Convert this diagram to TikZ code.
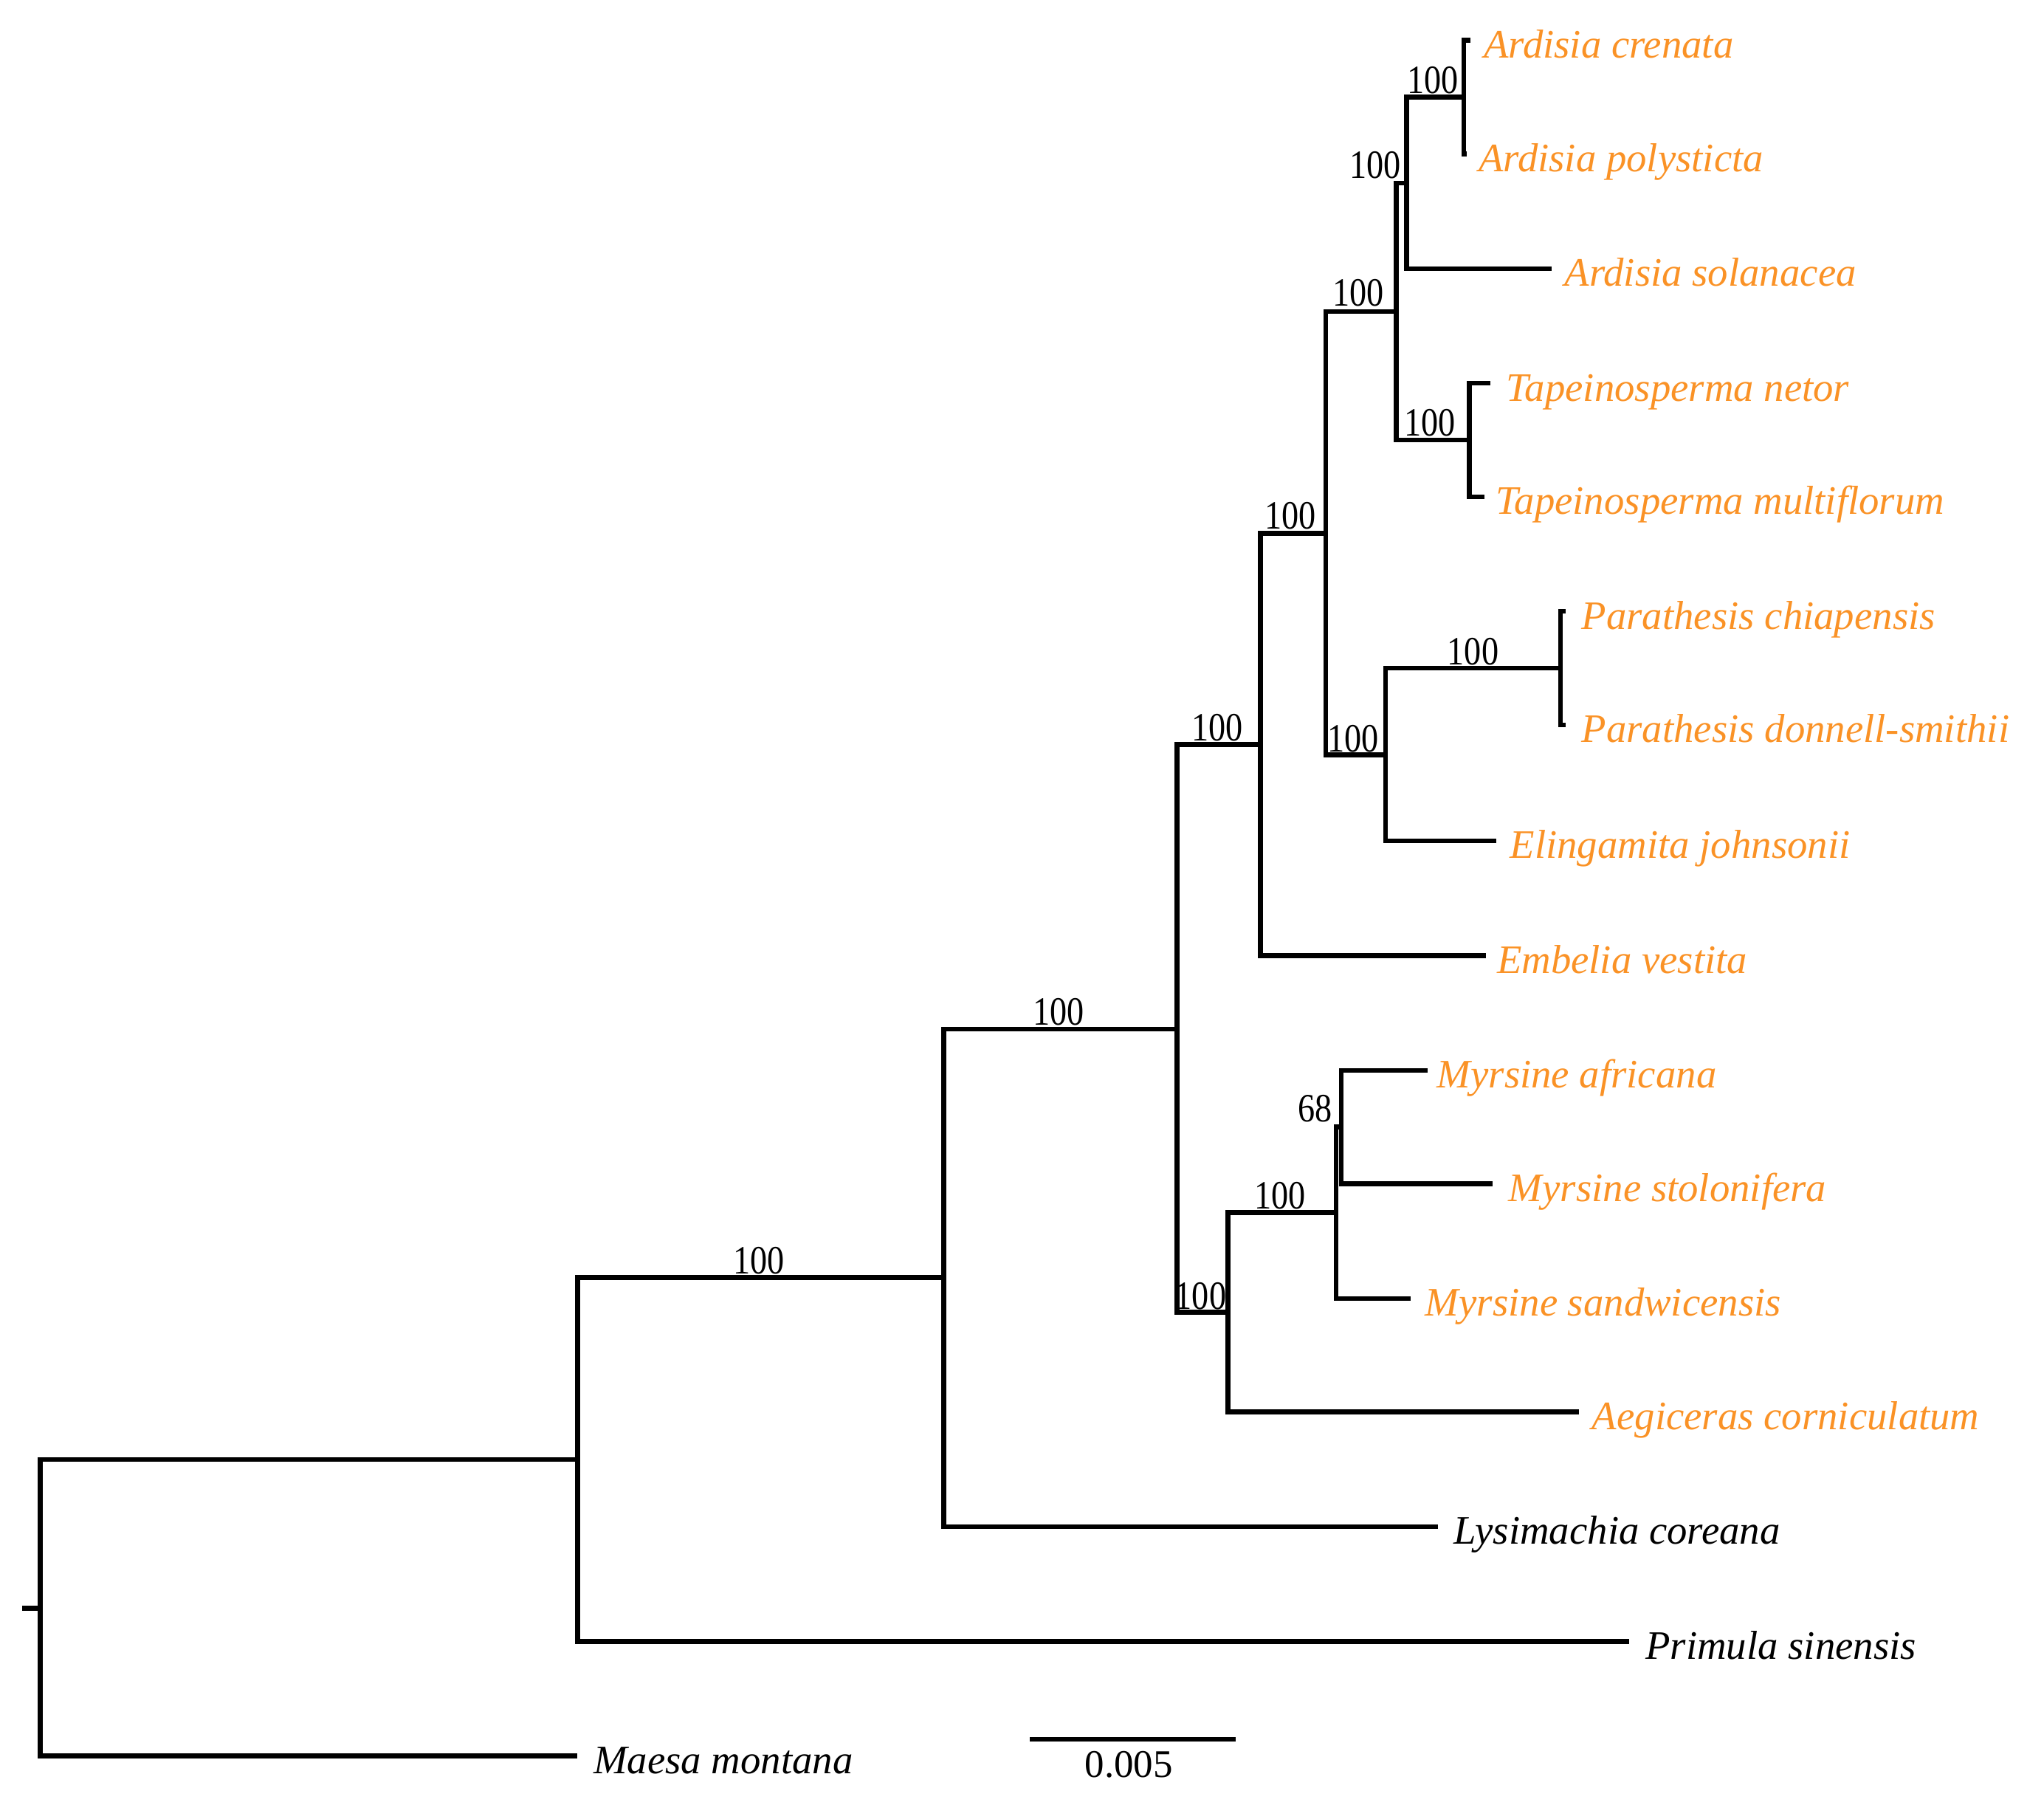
\documentclass[tikz,border=0pt]{standalone}
\usepackage{fontspec}
\setmainfont{Liberation Serif}
\definecolor{taxon}{RGB}{250,146,38}
\newcommand{\bsv}[1]{\scalebox{0.85}[1]{#1}}
\begin{document}
\begin{tikzpicture}[x=0.5pt,y=-0.5pt,
  br/.style={line width=1.85pt, line join=miter},
  tx/.style={anchor=base west, inner sep=0pt, font=\fontsize{15.5}{15.5}\selectfont\itshape},
  og/.style={text=taxon},
  bs/.style={anchor=base, inner sep=0pt, font=\fontsize{15.4}{15.4}\selectfont}]
\useasboundingbox (0,0) rectangle (1568,1384.5);
% internal nodes
\coordinate (rs) at (17,1233.5);
\coordinate (root) at (31,1233.5);
\coordinate (n1) at (443,1119.5);
\coordinate (n2) at (724,980);
\coordinate (n3) at (903,789.5);
\coordinate (n4) at (967,571);
\coordinate (n5) at (1017,409);
\coordinate (n6) at (1071,239);
\coordinate (n8) at (1079,140.5);
\coordinate (n9) at (1123,74.5);
\coordinate (nT) at (1127,337.5);
\coordinate (n7) at (1063,579);
\coordinate (nP) at (1197,512.5);
\coordinate (nM) at (942,1006.5);
\coordinate (nMy) at (1025,930);
\coordinate (n68) at (1029,864.5);
% leaf tips
\coordinate (Lcre) at (1128,31);
\coordinate (Lpol) at (1125,118);
\coordinate (Lsol) at (1190,206);
\coordinate (Lnet) at (1143,294);
\coordinate (Lmul) at (1139,381);
\coordinate (Lchi) at (1201,469);
\coordinate (Ldon) at (1201,556);
\coordinate (Leli) at (1148,645);
\coordinate (Lemb) at (1140,733);
\coordinate (Lafr) at (1095,821);
\coordinate (Lsto) at (1145,908);
\coordinate (Lsan) at (1082,996);
\coordinate (Laeg) at (1211,1083);
\coordinate (Llys) at (1103,1171);
\coordinate (Lpri) at (1250,1259);
\coordinate (Lmae) at (443,1347);
% branches
\draw[br] (rs) -- (root);
\draw[br] (root) |- (n1);
\draw[br] (root) |- (Lmae);
\draw[br] (n1) |- (n2);
\draw[br] (n1) |- (Lpri);
\draw[br] (n2) |- (n3);
\draw[br] (n2) |- (Llys);
\draw[br] (n3) |- (n4);
\draw[br] (n3) |- (nM);
\draw[br] (n4) |- (n5);
\draw[br] (n4) |- (Lemb);
\draw[br] (n5) |- (n6);
\draw[br] (n5) |- (n7);
\draw[br] (n6) |- (n8);
\draw[br] (n6) |- (nT);
\draw[br] (n8) |- (n9);
\draw[br] (n8) |- (Lsol);
\draw[br] (n9) |- (Lcre);
\draw[br] (n9) |- (Lpol);
\draw[br] (nT) |- (Lnet);
\draw[br] (nT) |- (Lmul);
\draw[br] (n7) |- (nP);
\draw[br] (n7) |- (Leli);
\draw[br] (nP) |- (Lchi);
\draw[br] (nP) |- (Ldon);
\draw[br] (nM) |- (nMy);
\draw[br] (nM) |- (Laeg);
\draw[br] (nMy) |- (n68);
\draw[br] (nMy) |- (Lsan);
\draw[br] (n68) |- (Lafr);
\draw[br] (n68) |- (Lsto);
% taxon labels
\node[tx,og] (tcre) at (1138,44.5) {Ardisia crenata};
\node[tx,og] (tpol) at (1134,131.5) {Ardisia polysticta};
\node[tx,og] (tsol) at (1200,219.5) {Ardisia solanacea};
\node[tx,og] (tnet) at (1155,307.5) {Tapeinosperma netor};
\node[tx,og] (tmul) at (1147,394.5) {Tapeinosperma multiflorum};
\node[tx,og] (tchi) at (1213,482.5) {Parathesis chiapensis};
\node[tx,og] (tdon) at (1213,569.5) {Parathesis donnell-smithii};
\node[tx,og] (teli) at (1158,658.5) {Elingamita johnsonii};
\node[tx,og] (temb) at (1148,746.5) {Embelia vestita};
\node[tx,og] (tafr) at (1102,834.5) {Myrsine africana};
\node[tx,og] (tsto) at (1157,921.5) {Myrsine stolonifera};
\node[tx,og] (tsan) at (1093,1009.5) {Myrsine sandwicensis};
\node[tx,og] (taeg) at (1221,1096.5) {Aegiceras corniculatum};
\node[tx] (tlys) at (1115,1184.5) {Lysimachia coreana};
\node[tx] (tpri) at (1262,1272.5) {Primula sinensis};
\node[tx] (tmae) at (455,1360.5) {Maesa montana};
% support values
\node[bs] (b1) at (582,977) {\bsv{100}};
\node[bs] (b2) at (812,786) {\bsv{100}};
\node[bs] (b3) at (934,568) {\bsv{100}};
\node[bs] (b4) at (921,1004) {\bsv{100}};
\node[bs] (b5) at (990,406) {\bsv{100}};
\node[bs] (b6) at (1042,235) {\bsv{100}};
\node[bs] (b7) at (1038,577) {\bsv{100}};
\node[bs] (b8) at (1130,510) {\bsv{100}};
\node[bs] (b9) at (1055,137) {\bsv{100}};
\node[bs] (b10) at (1097,334.5) {\bsv{100}};
\node[bs] (b11) at (1099,71.5) {\bsv{100}};
\node[bs] (b12) at (982,927) {\bsv{100}};
\node[bs] (b13) at (1009,860.5) {\bsv{68}};
% scale bar
\coordinate (sb1) at (790,1334);
\coordinate (sb2) at (948,1334);
\draw[br] (sb1) -- (sb2);
\node[anchor=base, inner sep=0pt, font=\fontsize{15}{15}\selectfont] (sbl) at (866,1363) {0.005};
\end{tikzpicture}
\end{document}
